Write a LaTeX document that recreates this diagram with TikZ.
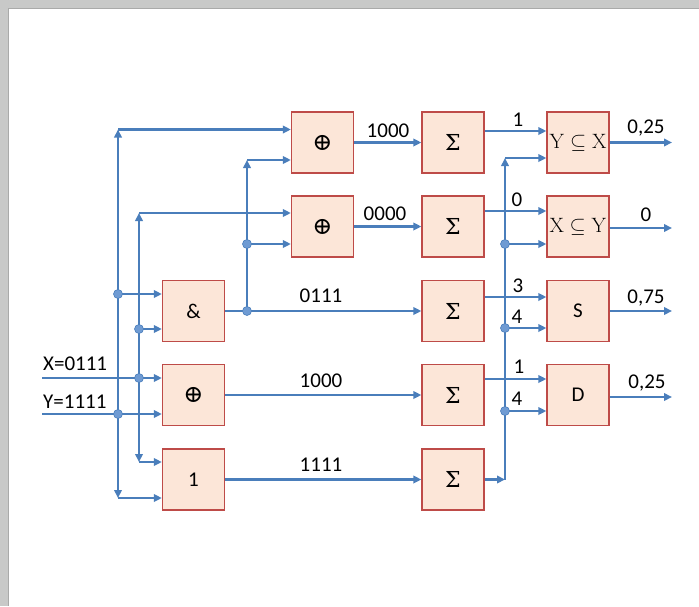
\documentclass[tikz,border=0pt]{standalone}
\usepackage[no-math]{fontspec}
\setmainfont{Carlito}
\newfontfamily\symfont{DejaVu Serif}
\newcommand\xorsym{{\symfont\fontsize{24}{26}\selectfont ⊕}}
\newcommand\sumsym{{\symfont\fontsize{22}{26}\selectfont Σ}}
\usetikzlibrary{arrows.meta,calc}
\definecolor{wireblue}{HTML}{4A7EBB}
\definecolor{dotblue}{HTML}{6F9BD3}
\definecolor{boxfill}{HTML}{FCE6D8}
\definecolor{boxline}{HTML}{BE4B48}
\definecolor{framegray}{HTML}{C8C9C8}
\definecolor{framedark}{HTML}{A9AAA9}
\begin{document}
\begin{tikzpicture}[x=1pt,y=-1pt,
  blk/.style={draw=boxline,fill=boxfill,line width=1.3pt,minimum width=62pt,minimum height=61pt,inner sep=0pt,font=\fontsize{21}{24}\selectfont},
  rel/.style={font=\fontsize{20.74}{24}\selectfont},
  wire/.style={draw=wireblue,line width=2.6pt},
  arr/.style={wire,-{Triangle[length=8pt,width=7.5pt]}},
  jdot/.style={circle,fill=dotblue,draw=wireblue,line width=0.6pt,inner sep=0pt,minimum size=9pt},
  lbl/.style={font=\fontsize{21}{24}\selectfont,inner sep=0pt,anchor=base}]
\useasboundingbox (0,0) rectangle (699,606);
% page frame
\fill[framegray] (0,0) rectangle (699,9);
\fill[framegray] (0,0) rectangle (9,606);
\draw[framedark,line width=1.5pt] (8.5,606) -- (8.5,8.5) -- (699,8.5);

% blocks
\node[blk] (and)   at (193.5,311)   {\&};
\node[blk] (xorA)  at (193.5,395)   {\xorsym};
\node[blk] (one)   at (193.5,479.5) {1};
\node[blk] (xorB)  at (322.5,142.5) {\xorsym};
\node[blk] (xorC)  at (322.5,226.5) {\xorsym};
\node[blk] (sum1)  at (453,142.5)   {\sumsym};
\node[blk] (sum2)  at (453,226.5)   {\sumsym};
\node[blk] (sum3)  at (453,311)     {\sumsym};
\node[blk] (sum4)  at (453,395)     {\sumsym};
\node[blk] (sum5)  at (453,479.5)   {\sumsym};
\node[blk,rel] (incl1) at (578,142.5)   {$\mathrm{Y}\subseteq\mathrm{X}$};
\node[blk,rel] (incl2) at (578,226.5)   {$\mathrm{X}\subseteq\mathrm{Y}$};
\node[blk] (sbox)  at (578,311)     {S};
\node[blk] (dbox)  at (578,395)     {D};

% inputs
\coordinate (xin) at (42,378);
\coordinate (yin) at (42,414);
\node[lbl,anchor=base west] (xlab) at (43,370) {X=0111};
\node[lbl,anchor=base west] (ylab) at (43,408) {Y=1111};
\draw[arr] (xin) -- (xin -| xorA.west);
\draw[arr] (yin) -- (yin -| xorA.west);

% Y bus
\coordinate (yj)   at (118,414);
\coordinate (ytop) at (118,129.5);
\coordinate (ybot) at (118,498);
\coordinate (yand) at (118,294);
\draw[arr] (yj) -- (ytop);
\draw[arr] (ytop) -- (ytop -| xorB.west);
\draw[arr] (yj) -- (ybot);
\draw[arr] (ybot) -- (ybot -| one.west);
\draw[arr] (yand) -- (yand -| and.west);

% X bus
\coordinate (xj)   at (139,378);
\coordinate (xtop) at (139,213);
\coordinate (xbot) at (139,462);
\coordinate (xand) at (139,329);
\draw[arr] (xj) -- (xtop);
\draw[arr] (xtop) -- (xtop -| xorC.west);
\draw[arr] (xj) -- (xbot);
\draw[arr] (xbot) -- (xbot -| one.west);
\draw[arr] (xand) -- (xand -| and.west);

% AND output bus
\coordinate (aj)   at (247,311);
\coordinate (atop) at (247,160);
\coordinate (amid) at (247,244);
\draw[arr] (and.east) -- (sum3.west);
\draw[arr] (aj) -- (atop);
\draw[arr] (atop) -- (atop -| xorB.west);
\draw[arr] (amid) -- (amid -| xorC.west);

% rows to sums
\draw[arr] (xorB.east) -- (sum1.west);
\draw[arr] (xorC.east) -- (sum2.west);
\draw[arr] (xorA.east) -- (sum4.west);
\draw[arr] (one.east)  -- (sum5.west);
\node[lbl] (t1) at (388,137) {1000};
\node[lbl] (t2) at (385,220) {0000};
\node[lbl] (t3) at (321,302) {0111};
\node[lbl] (t4) at (321,387) {1000};
\node[lbl] (t5) at (321,471) {1111};

% sums to last column
\draw[arr] ([yshift=11.5pt]sum1.east) -- ([yshift=11.5pt]sum1.east -| incl1.west);
\draw[arr] ([yshift=15.5pt]sum2.east) -- ([yshift=15.5pt]sum2.east -| incl2.west);
\draw[arr] ([yshift=14pt]sum3.east) -- ([yshift=14pt]sum3.east -| sbox.west);
\draw[arr] ([yshift=16pt]sum4.east) -- ([yshift=16pt]sum4.east -| dbox.west);

% count bus
\coordinate (bb) at (505,479.5);
\coordinate (bt) at (505,158);
\coordinate (b2) at (505,244);
\coordinate (b3) at (505,328);
\coordinate (b4) at (505,411);
\draw[arr] (sum5.east) -- (bb);
\draw[arr] (bb) -- (bt);
\draw[arr] (bt) -- (bt -| incl1.west);
\draw[arr] (b2) -- (b2 -| incl2.west);
\draw[arr] (b3) -- (b3 -| sbox.west);
\draw[arr] (b4) -- (b4 -| dbox.west);
\node[lbl] (c1) at (518,126) {1};
\node[lbl] (c2) at (517,206) {0};
\node[lbl] (c3) at (518,292) {3};
\node[lbl] (c4) at (517,323) {4};
\node[lbl] (c5) at (519,373) {1};
\node[lbl] (c6) at (517,405) {4};

% outputs
\coordinate (o1) at (672,142.5);
\coordinate (o2) at (672,228);
\coordinate (o3) at (672,311);
\coordinate (o4) at (672,397);
\draw[arr] (incl1.east |- o1) -- (o1);
\draw[arr] (incl2.east |- o2) -- (o2);
\draw[arr] (sbox.east |- o3) -- (o3);
\draw[arr] (dbox.east |- o4) -- (o4);
\node[lbl] (v1) at (646,133) {0,25};
\node[lbl] (v2) at (646,221) {0};
\node[lbl] (v3) at (646,303) {0,75};
\node[lbl] (v4) at (647,388) {0,25};

% junction dots
\foreach \p in {yj,yand,xj,xand,aj,amid,b2,b3,b4}
  \node[jdot] at (\p) {};
\end{tikzpicture}
\end{document}
